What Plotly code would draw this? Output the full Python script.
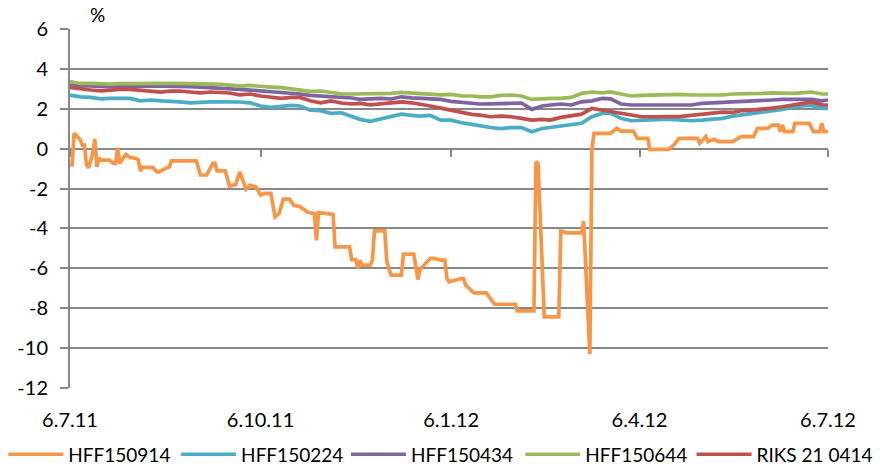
import plotly.graph_objects as go

# ---------------- data ----------------
orange_name = "HFF150914"
orange_dates = [
    '2011-07-06','2011-07-07','2011-07-08','2011-07-11','2011-07-12','2011-07-13','2011-07-14','2011-07-15',
    '2011-07-17','2011-07-18','2011-07-19','2011-07-20','2011-07-21','2011-07-25','2011-07-27','2011-07-28',
    '2011-07-29','2011-07-30','2011-07-31','2011-08-02','2011-08-04','2011-08-07','2011-08-08','2011-08-09',
    '2011-08-10','2011-08-15','2011-08-17','2011-08-18','2011-08-21','2011-08-23','2011-08-24','2011-09-05',
    '2011-09-07','2011-09-10','2011-09-13','2011-09-14','2011-09-15','2011-09-19','2011-09-21','2011-09-24',
    '2011-09-26','2011-09-29','2011-10-01','2011-10-04','2011-10-06','2011-10-08','2011-10-11','2011-10-13',
    '2011-10-15','2011-10-17','2011-10-20','2011-10-22','2011-10-25','2011-10-29','2011-11-01','2011-11-02',
    '2011-11-03','2011-11-06','2011-11-10','2011-11-11','2011-11-18','2011-11-19','2011-11-21','2011-11-22',
    '2011-11-23','2011-11-24','2011-11-28','2011-11-29','2011-11-30','2011-12-05','2011-12-06','2011-12-08',
    '2011-12-13','2011-12-14','2011-12-19','2011-12-21','2011-12-22','2011-12-27','2011-12-29','2012-01-01',
    '2012-01-03','2012-01-04','2012-01-05','2012-01-11','2012-01-12','2012-01-13','2012-01-17','2012-01-23',
    '2012-01-25','2012-01-27','2012-02-06','2012-02-07','2012-02-15','2012-02-16','2012-02-17','2012-02-20',
    '2012-02-27','2012-02-28','2012-03-02','2012-03-09','2012-03-10','2012-03-13','2012-03-14','2012-03-15',
    '2012-03-23','2012-03-26','2012-03-28','2012-04-03','2012-04-05','2012-04-10','2012-04-11','2012-04-20',
    '2012-04-23','2012-04-25','2012-05-04','2012-05-05','2012-05-08','2012-05-09','2012-05-12','2012-05-14',
    '2012-05-21','2012-05-25','2012-05-31','2012-06-02','2012-06-07','2012-06-09','2012-06-12','2012-06-13',
    '2012-06-14','2012-06-15','2012-06-19','2012-06-20','2012-06-27','2012-06-28','2012-06-29','2012-07-02',
    '2012-07-03','2012-07-04','2012-07-06']
orange_values = [
    -0.82,-0.82,0.77,0.43,0.18,0.18,-0.82,-0.96,
    -0.24,0.48,-0.91,-0.46,-0.57,-0.57,-0.74,-0.74,
    0.05,-0.74,-0.57,-0.29,-0.44,-0.49,-0.57,-1.12,
    -0.94,-0.94,-1.16,-1.16,-0.99,-0.91,-0.61,-0.61,
    -1.32,-1.32,-0.74,-0.74,-1.11,-1.11,-1.88,-1.80,
    -1.16,-2.03,-1.83,-1.94,-2.33,-2.24,-2.24,-3.42,
    -3.25,-2.53,-2.53,-2.83,-2.91,-3.20,-3.25,-4.60,
    -3.20,-3.25,-3.30,-4.92,-4.92,-5.56,-5.56,-6.00,
    -5.60,-5.84,-5.84,-5.60,-4.12,-4.12,-5.67,-6.34,
    -6.34,-5.29,-5.29,-6.56,-6.06,-5.50,-5.50,-5.59,
    -5.59,-6.51,-6.68,-6.51,-6.51,-6.84,-7.23,-7.23,
    -7.51,-7.80,-7.80,-8.13,-8.13,-0.66,-0.74,-8.43,
    -8.43,-4.13,-4.22,-4.22,-3.63,-10.30,-0.07,0.77,
    0.77,1.02,0.88,0.88,0.52,0.52,-0.04,-0.04,
    0.23,0.52,0.52,0.27,0.60,0.35,0.47,0.35,
    0.35,0.60,0.60,1.02,1.02,1.18,1.18,0.85,
    1.18,0.85,0.85,1.27,1.27,1.10,0.85,0.85,
    1.27,0.85,0.85]

upper_dates = [
    '2011-07-06','2011-07-11','2011-07-16','2011-07-21','2011-07-25','2011-07-30','2011-08-04','2011-08-09',
    '2011-08-14','2011-08-19','2011-08-23','2011-08-28','2011-09-02','2011-09-07','2011-09-12','2011-09-17',
    '2011-09-21','2011-09-26','2011-10-01','2011-10-06','2011-10-11','2011-10-16','2011-10-21','2011-10-25',
    '2011-10-30','2011-11-04','2011-11-09','2011-11-14','2011-11-19','2011-11-23','2011-11-28','2011-12-03',
    '2011-12-08','2011-12-13','2011-12-18','2011-12-22','2011-12-27','2012-01-01','2012-01-06','2012-01-11',
    '2012-01-16','2012-01-20','2012-01-25','2012-01-30','2012-02-04','2012-02-09','2012-02-14','2012-02-19',
    '2012-02-23','2012-02-28','2012-03-04','2012-03-09','2012-03-14','2012-03-19','2012-03-23','2012-03-28',
    '2012-04-02','2012-04-07','2012-04-12','2012-04-17','2012-04-21','2012-04-26','2012-05-01','2012-05-06',
    '2012-05-11','2012-05-16','2012-05-21','2012-05-25','2012-05-30','2012-06-04','2012-06-09','2012-06-14',
    '2012-06-19','2012-06-23','2012-06-28','2012-07-03','2012-07-06']

blue_name = "HFF150224"
blue_values = [
    2.69,2.60,2.57,2.50,2.52,2.52,2.52,2.40,2.44,2.40,
    2.39,2.35,2.30,2.34,2.35,2.35,2.35,2.34,2.30,2.14,
    2.07,2.10,2.17,2.14,1.93,1.90,1.77,1.80,1.63,1.47,
    1.37,1.50,1.60,1.73,1.67,1.63,1.67,1.43,1.43,
    1.30,1.22,1.13,1.06,1.01,1.06,1.06,0.85,1.01,1.06,
    1.13,1.17,1.27,1.60,1.77,1.77,1.52,1.40,1.43,1.47,
    1.47,1.47,1.43,1.40,1.43,1.47,1.52,1.63,1.68,1.75,
    1.80,1.90,1.97,2.07,2.14,2.17,2.02,2.02]

purple_name = "HFF150434"
purple_values = [
    3.19,3.16,3.12,3.11,3.11,3.12,3.14,3.14,3.14,3.14,
    3.14,3.12,3.11,3.09,3.07,3.04,3.00,2.97,2.94,2.90,
    2.87,2.80,2.77,2.74,2.67,2.64,2.60,2.59,2.54,2.47,
    2.50,2.52,2.49,2.60,2.55,2.52,2.50,2.47,2.37,
    2.32,2.27,2.24,2.25,2.27,2.30,2.29,1.97,2.14,2.19,
    2.24,2.19,2.35,2.40,2.52,2.50,2.24,2.19,2.19,2.19,
    2.19,2.19,2.19,2.19,2.27,2.29,2.30,2.34,2.35,2.39,
    2.40,2.44,2.47,2.47,2.50,2.47,2.40,2.44]

green_name = "HFF150644"
green_values = [
    3.36,3.27,3.27,3.24,3.24,3.26,3.27,3.27,3.27,3.27,
    3.27,3.27,3.26,3.24,3.27,3.22,3.19,3.14,3.17,3.11,
    3.09,3.06,2.99,2.90,2.87,2.89,2.80,2.75,2.74,2.74,
    2.75,2.77,2.77,2.82,2.79,2.77,2.75,2.70,2.72,
    2.65,2.64,2.60,2.60,2.67,2.69,2.64,2.47,2.52,2.52,
    2.52,2.57,2.77,2.84,2.80,2.85,2.74,2.64,2.67,2.69,
    2.69,2.69,2.72,2.69,2.69,2.69,2.69,2.74,2.74,2.77,
    2.77,2.80,2.77,2.77,2.80,2.84,2.74,2.74]

red_name = "RIKS 21 0414"
red_values = [
    3.07,2.99,2.94,2.90,2.94,2.97,2.97,2.94,2.90,2.84,
    2.89,2.89,2.84,2.80,2.84,2.80,2.79,2.70,2.74,2.64,
    2.57,2.52,2.57,2.57,2.40,2.30,2.39,2.29,2.24,2.27,
    2.20,2.24,2.29,2.35,2.30,2.24,2.14,2.03,1.93,
    1.80,1.72,1.68,1.60,1.63,1.60,1.52,1.43,1.47,1.43,
    1.57,1.63,1.73,2.02,1.93,1.87,1.77,1.68,1.60,1.60,
    1.60,1.60,1.62,1.67,1.73,1.77,1.83,1.82,1.90,1.93,
    1.97,2.03,2.10,2.17,2.27,2.34,2.20,2.19]

tick_dates = ['2011-07-06', '2011-10-06', '2012-01-06', '2012-04-06', '2012-07-06']
tick_labels = ['6.7.11', '6.10.11', '6.1.12', '6.4.12', '6.7.12']
y_ticks = [6, 4, 2, 0, -2, -4, -6, -8, -10, -12]
y_tick_labels = ['6', '4', '2', '0', '-2', '-4', '-6', '-8', '-10', '-12']
unit_label = "%"

# ---------------- styling ----------------
FONT = "Lato"
GRID = "#888888"
colors = {
    orange_name: "#F79646",
    blue_name: "#4BACC6",
    purple_name: "#8064A2",
    green_name: "#9BBB59",
    red_name: "#C0504D",
}
# horizontal position (paper fraction) of each legend entry
legend_x = [-0.088, 0.140, 0.364, 0.594, 0.820]

fig = go.Figure()
series = [
    (orange_name, orange_dates, orange_values),
    (blue_name, upper_dates, blue_values),
    (purple_name, upper_dates, purple_values),
    (green_name, upper_dates, green_values),
    (red_name, upper_dates, red_values),
]
legend_layout = {}
for i, (name, xs, ys) in enumerate(series):
    key = "legend" if i == 0 else f"legend{i + 1}"
    fig.add_trace(go.Scatter(
        x=xs, y=ys, name=name, mode="lines", legend=key,
        line=dict(color=colors[name], width=3.7, shape="linear"),
    ))
    legend_layout[key] = dict(
        orientation="h", x=legend_x[i], xanchor="left", y=-0.185, yanchor="middle",
        font=dict(family=FONT, size=19, color="#000000"),
        bgcolor="rgba(0,0,0,0)", borderwidth=0, itemwidth=55,
    )

# invisible helper trace so the tick-mark axis at the zero line is drawn
fig.add_trace(go.Scatter(
    x=[tick_dates[0], tick_dates[-1]], y=[None, None], xaxis="x2", yaxis="y",
    mode="lines", showlegend=False, hoverinfo="skip", line=dict(width=0),
))

x_range = [tick_dates[0], tick_dates[-1]]
fig.update_layout(
    width=880, height=466,
    margin=dict(l=70, r=52, t=29, b=78, autoexpand=False),
    paper_bgcolor="white", plot_bgcolor="white",
    font=dict(family=FONT, size=19, color="#000000"),
    xaxis=dict(
        type="date", range=x_range, automargin=False,
        tickmode="array", tickvals=tick_dates, ticktext=tick_labels,
        showgrid=False, zeroline=False, showline=False, ticks="",
        ticklabelstandoff=18,
        tickfont=dict(family=FONT, size=20, color="#000000"),
    ),
    xaxis2=dict(
        type="date", range=x_range, overlaying="x", anchor="free",
        position=12 / 18, automargin=False,
        tickmode="array", tickvals=tick_dates,
        showticklabels=False, showgrid=False, zeroline=False, showline=False,
        ticks="outside", ticklen=7, tickwidth=2, tickcolor=GRID,
    ),
    yaxis=dict(
        range=[-12, 6], tickmode="array", tickvals=y_ticks, ticktext=y_tick_labels,
        automargin=False,
        showgrid=True, gridcolor=GRID, gridwidth=2,
        zeroline=False, showline=True, linecolor=GRID, linewidth=2,
        ticks="outside", ticklen=8, tickwidth=2, tickcolor=GRID,
        ticklabelstandoff=8,
        tickfont=dict(family=FONT, size=20, color="#000000"),
    ),
    annotations=[dict(
        text=unit_label, xref="paper", yref="paper", x=0.036, y=1.04,
        xanchor="center", yanchor="middle", showarrow=False,
        font=dict(family=FONT, size=19, color="#000000"),
    )],
    showlegend=True,
    **legend_layout,
)

# remove the browser's default 8 px page margin so the figure fills the window
fig.write_html(
    "out.html",
    config={"displayModeBar": False},
    post_script="document.body.style.margin='0';",
)
